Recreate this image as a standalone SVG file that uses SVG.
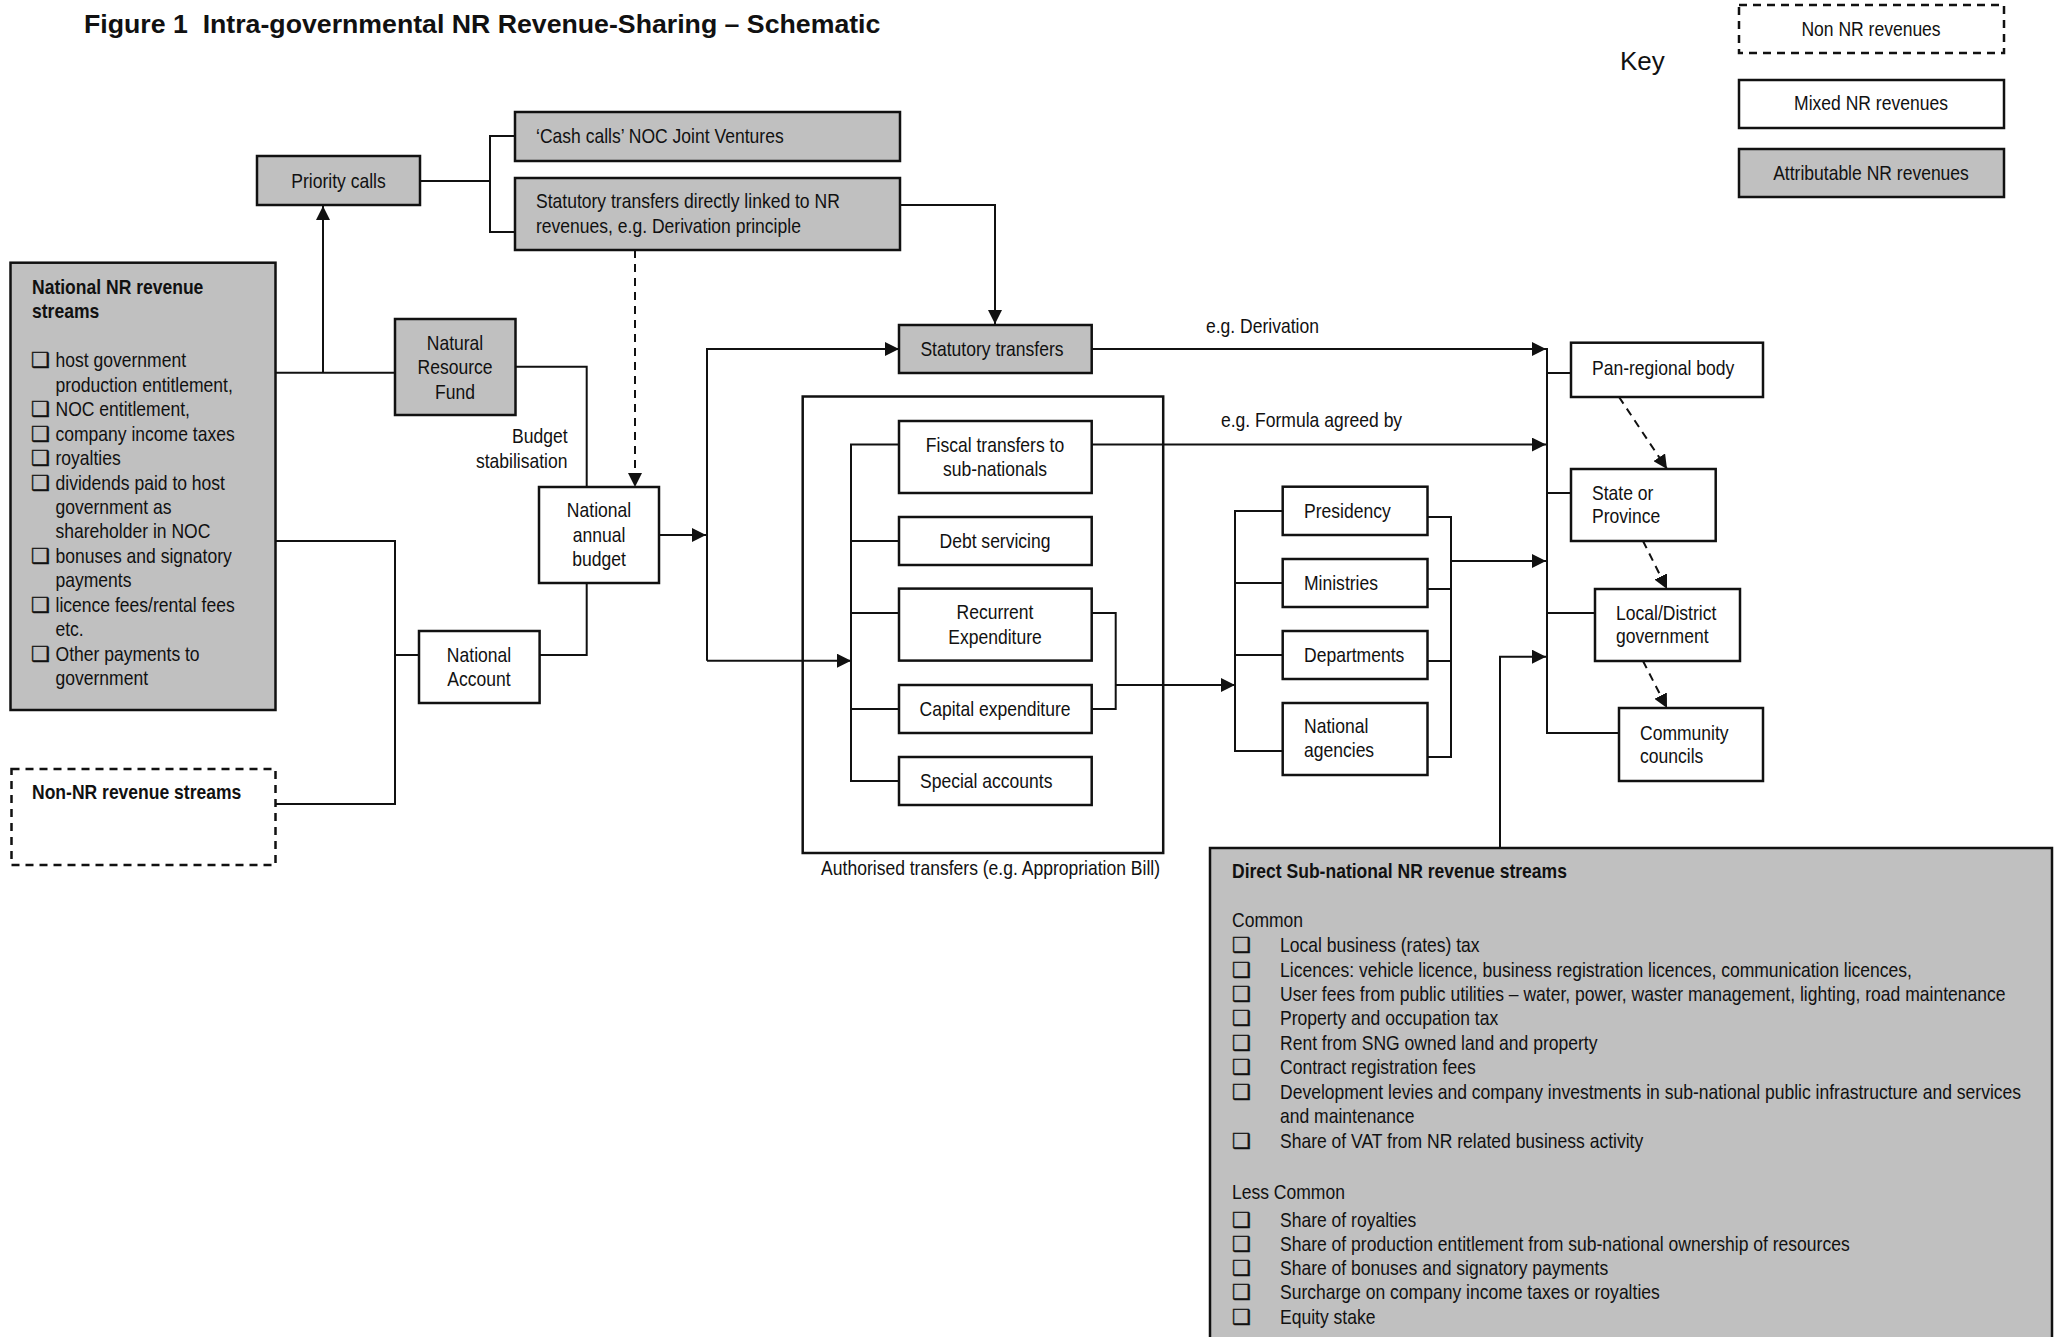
<svg xmlns="http://www.w3.org/2000/svg" width="2058" height="1337" viewBox="0 0 2058 1337">
<defs>
<style>
.t{font-family:"Liberation Sans",Arial,sans-serif;font-size:21px;fill:#111}
.c{text-anchor:middle}
.e{text-anchor:end}
.h{font-weight:bold}
.cb{font-family:"DejaVu Sans",sans-serif;font-size:21px;fill:#111;stroke:#111;stroke-width:0.4}
.grey{fill:#c0c0c0;stroke:#111;stroke-width:2.5}
.white{fill:#fff;stroke:#111;stroke-width:2.5}
.dash{fill:#fff;stroke:#111;stroke-width:2.5;stroke-dasharray:8 6}
.ln{fill:none;stroke:#111;stroke-width:2}
.dl{fill:none;stroke:#111;stroke-width:2;stroke-dasharray:8 6}
</style>
<marker id="ah" viewBox="0 0 14 14" refX="14" refY="7" markerWidth="14" markerHeight="14" markerUnits="userSpaceOnUse" orient="auto">
<path d="M0,0 L14,7 L0,14 z" fill="#111"/>
</marker>
</defs>
<rect width="2058" height="1337" fill="#fff"/>

<text x="84" y="33" xml:space="preserve" style="font-family:'Liberation Sans',Arial,sans-serif;font-size:26.7px;font-weight:bold;fill:#111">Figure 1  Intra-governmental NR Revenue-Sharing – Schematic</text>

<g id="key">
<text x="1620" y="70" style="font-family:'Liberation Sans',Arial,sans-serif;font-size:26px;fill:#111">Key</text>
<rect class="dash" x="1739" y="5" width="265" height="48"/>
<text class="t c" transform="matrix(.835 0 0 1 1871 36)">Non NR revenues</text>
<rect class="white" x="1739" y="80" width="265" height="48"/>
<text class="t c" transform="matrix(.835 0 0 1 1871 110)">Mixed NR revenues</text>
<rect class="grey" x="1739" y="149" width="265" height="48"/>
<text class="t c" transform="matrix(.835 0 0 1 1871 180)">Attributable NR revenues</text>
</g>

<g id="connectors">
<path class="ln" d="M420,181 H490 M515,136 H490 V232 H515"/>
<path class="ln" d="M275.5,372.7 H395"/>
<path class="ln" d="M323,372.7 V206" marker-end="url(#ah)"/>
<path class="ln" d="M515.5,366.7 H586.7 V487"/>
<path class="ln" d="M900,205 H995 V324" marker-end="url(#ah)"/>
<path class="dl" d="M635,250 V487" marker-end="url(#ah)"/>
<path class="ln" d="M275.5,541 H395 V804 H275 M395,655 H419"/>
<path class="ln" d="M586.7,583 V655 H539.6"/>
<path class="ln" d="M659,535 H706" marker-end="url(#ah)"/>
<path class="ln" d="M707,660.7 V349 H899" marker-end="url(#ah)"/>
<path class="ln" d="M707,660.7 H851" marker-end="url(#ah)"/>
<path class="ln" d="M899,444.6 H851 V781 H899 M851,541 H899 M851,613 H899 M851,709 H899"/>
<path class="ln" d="M1091.7,613 H1115.7 V709 H1091.7"/>
<path class="ln" d="M1115.7,685 H1235" marker-end="url(#ah)"/>
<path class="ln" d="M1282.7,511 H1235 V751 H1282.7 M1235,583 H1282.7 M1235,655 H1282.7"/>
<path class="ln" d="M1427.5,517 H1451 V757 H1427.5 M1451,589 H1427.5 M1451,661 H1427.5"/>
<path class="ln" d="M1451,561 H1546" marker-end="url(#ah)"/>
<path class="ln" d="M1091.7,349 H1546" marker-end="url(#ah)"/>
<path class="ln" d="M1091.7,444.6 H1546" marker-end="url(#ah)"/>
<path class="ln" d="M1500,848 V656.7 H1546" marker-end="url(#ah)"/>
<path class="ln" d="M1547,348 V733 H1619 M1547,373 H1571 M1547,493 H1571 M1547,613 H1595"/>
<path class="dl" d="M1619,397 L1667,469" marker-end="url(#ah)"/>
<path class="dl" d="M1643,541 L1667,589" marker-end="url(#ah)"/>
<path class="dl" d="M1643,661 L1667,708" marker-end="url(#ah)"/>
</g>

<text class="t" transform="matrix(.835 0 0 1 1206 333)">e.g. Derivation</text>
<text class="t" transform="matrix(.835 0 0 1 1221 427)">e.g. Formula agreed by</text>
<text class="t e" transform="matrix(.835 0 0 1 567.5 443)">Budget</text>
<text class="t e" transform="matrix(.835 0 0 1 567.5 468)">stabilisation</text>

<g id="priority-calls">
<rect class="grey" x="257" y="156" width="163" height="49"/>
<text class="t c" transform="matrix(.835 0 0 1 338.5 188)">Priority calls</text>
</g>

<g id="cash-calls">
<rect class="grey" x="515" y="112" width="385" height="49"/>
<text class="t" transform="matrix(.835 0 0 1 536 143)">‘Cash calls’ NOC Joint Ventures</text>
</g>

<g id="statutory-direct">
<rect class="grey" x="515" y="178" width="385" height="72"/>
<text class="t" transform="matrix(.835 0 0 1 536 208)">Statutory transfers directly linked to NR</text>
<text class="t" transform="matrix(.835 0 0 1 536 233)">revenues, e.g. Derivation principle</text>
</g>

<g id="national-nr">
<rect class="grey" x="10.5" y="262.7" width="265" height="447.3"/>
<text class="t h" transform="matrix(.835 0 0 1 32 294)">National NR revenue</text>
<text class="t h" transform="matrix(.835 0 0 1 32 318)">streams</text>
<text class="cb" x="31" y="367">❑</text><text class="t" transform="matrix(.835 0 0 1 55.5 367)">host government</text>
<text class="t" transform="matrix(.835 0 0 1 55.5 391.5)">production entitlement,</text>
<text class="cb" x="31" y="416">❑</text><text class="t" transform="matrix(.835 0 0 1 55.5 416)">NOC entitlement,</text>
<text class="cb" x="31" y="440.5">❑</text><text class="t" transform="matrix(.835 0 0 1 55.5 440.5)">company income taxes</text>
<text class="cb" x="31" y="465">❑</text><text class="t" transform="matrix(.835 0 0 1 55.5 465)">royalties</text>
<text class="cb" x="31" y="489.5">❑</text><text class="t" transform="matrix(.835 0 0 1 55.5 489.5)">dividends paid to host</text>
<text class="t" transform="matrix(.835 0 0 1 55.5 514)">government as</text>
<text class="t" transform="matrix(.835 0 0 1 55.5 538)">shareholder in NOC</text>
<text class="cb" x="31" y="562.5">❑</text><text class="t" transform="matrix(.835 0 0 1 55.5 562.5)">bonuses and signatory</text>
<text class="t" transform="matrix(.835 0 0 1 55.5 587)">payments</text>
<text class="cb" x="31" y="611.5">❑</text><text class="t" transform="matrix(.835 0 0 1 55.5 611.5)">licence fees/rental fees</text>
<text class="t" transform="matrix(.835 0 0 1 55.5 636)">etc.</text>
<text class="cb" x="31" y="660.5">❑</text><text class="t" transform="matrix(.835 0 0 1 55.5 660.5)">Other payments to</text>
<text class="t" transform="matrix(.835 0 0 1 55.5 685)">government</text>
</g>

<g id="non-nr">
<rect class="dash" x="11.5" y="769" width="264" height="96"/>
<text class="t h" transform="matrix(.835 0 0 1 32 799)">Non-NR revenue streams</text>
</g>

<g id="natural-resource-fund">
<rect class="grey" x="395" y="319" width="120.5" height="96"/>
<text class="t c" transform="matrix(.835 0 0 1 455 350)">Natural</text>
<text class="t c" transform="matrix(.835 0 0 1 455 374)">Resource</text>
<text class="t c" transform="matrix(.835 0 0 1 455 399)">Fund</text>
</g>

<g id="national-annual-budget">
<rect class="white" x="539" y="487" width="120" height="96"/>
<text class="t c" transform="matrix(.835 0 0 1 599 517)">National</text>
<text class="t c" transform="matrix(.835 0 0 1 599 542)">annual</text>
<text class="t c" transform="matrix(.835 0 0 1 599 566)">budget</text>
</g>

<g id="national-account">
<rect class="white" x="419" y="631" width="120.6" height="72"/>
<text class="t c" transform="matrix(.835 0 0 1 479 662)">National</text>
<text class="t c" transform="matrix(.835 0 0 1 479 686)">Account</text>
</g>

<g id="statutory-transfers">
<rect class="grey" x="899" y="325" width="192.7" height="48"/>
<text class="t c" transform="matrix(.835 0 0 1 992 356)">Statutory transfers</text>
</g>

<g id="authorised-transfers">
<rect x="802.7" y="396.5" width="360.5" height="456.5" fill="none" stroke="#111" stroke-width="2.5"/>
<text class="t e" transform="matrix(.835 0 0 1 1160 875)">Authorised transfers (e.g. Appropriation Bill)</text>
</g>

<g id="fiscal-transfers">
<rect class="white" x="899" y="421" width="192.7" height="72"/>
<text class="t c" transform="matrix(.835 0 0 1 995 452)">Fiscal transfers to</text>
<text class="t c" transform="matrix(.835 0 0 1 995 476)">sub-nationals</text>
</g>
<g id="debt-servicing">
<rect class="white" x="899" y="517" width="192.7" height="48"/>
<text class="t c" transform="matrix(.835 0 0 1 995 548)">Debt servicing</text>
</g>
<g id="recurrent-expenditure">
<rect class="white" x="899" y="588.6" width="192.7" height="72"/>
<text class="t c" transform="matrix(.835 0 0 1 995 619)">Recurrent</text>
<text class="t c" transform="matrix(.835 0 0 1 995 644)">Expenditure</text>
</g>
<g id="capital-expenditure">
<rect class="white" x="899" y="685" width="192.7" height="48"/>
<text class="t c" transform="matrix(.835 0 0 1 995 716)">Capital expenditure</text>
</g>
<g id="special-accounts">
<rect class="white" x="899" y="757" width="192.7" height="48"/>
<text class="t" transform="matrix(.835 0 0 1 920 787.5)">Special accounts</text>
</g>

<g id="presidency">
<rect class="white" x="1282.7" y="486.7" width="144.8" height="48.3"/>
<text class="t" transform="matrix(.835 0 0 1 1304 518)">Presidency</text>
</g>
<g id="ministries">
<rect class="white" x="1282.7" y="559" width="144.8" height="48"/>
<text class="t" transform="matrix(.835 0 0 1 1304 590)">Ministries</text>
</g>
<g id="departments">
<rect class="white" x="1282.7" y="631" width="144.8" height="48"/>
<text class="t" transform="matrix(.835 0 0 1 1304 662)">Departments</text>
</g>
<g id="national-agencies">
<rect class="white" x="1282.7" y="703" width="144.8" height="72"/>
<text class="t" transform="matrix(.835 0 0 1 1304 733)">National</text>
<text class="t" transform="matrix(.835 0 0 1 1304 757)">agencies</text>
</g>

<g id="pan-regional">
<rect class="white" x="1571" y="342.7" width="192" height="54.3"/>
<text class="t" transform="matrix(.835 0 0 1 1592 375)">Pan-regional body</text>
</g>
<g id="state-province">
<rect class="white" x="1571" y="469" width="144.7" height="72"/>
<text class="t" transform="matrix(.835 0 0 1 1592 500)">State or</text>
<text class="t" transform="matrix(.835 0 0 1 1592 523)">Province</text>
</g>
<g id="local-district">
<rect class="white" x="1595" y="589" width="145" height="72"/>
<text class="t" transform="matrix(.835 0 0 1 1616 620)">Local/District</text>
<text class="t" transform="matrix(.835 0 0 1 1616 643)">government</text>
</g>
<g id="community-councils">
<rect class="white" x="1619" y="708" width="144" height="73"/>
<text class="t" transform="matrix(.835 0 0 1 1640 740)">Community</text>
<text class="t" transform="matrix(.835 0 0 1 1640 763)">councils</text>
</g>

<g id="direct-subnational">
<rect class="grey" x="1210" y="848" width="842" height="500"/>
<text class="t h" transform="matrix(.835 0 0 1 1232 878)">Direct Sub-national NR revenue streams</text>
<text class="t" transform="matrix(.835 0 0 1 1232 927)">Common</text>
<text class="cb" x="1232" y="952">❑</text><text class="t" transform="matrix(.835 0 0 1 1280 952)">Local business (rates) tax</text>
<text class="cb" x="1232" y="976.5">❑</text><text class="t" transform="matrix(.835 0 0 1 1280 976.5)">Licences: vehicle licence, business registration licences, communication licences,</text>
<text class="cb" x="1232" y="1001">❑</text><text class="t" transform="matrix(.835 0 0 1 1280 1001)">User fees from public utilities – water, power, waster management, lighting, road maintenance</text>
<text class="cb" x="1232" y="1025">❑</text><text class="t" transform="matrix(.835 0 0 1 1280 1025)">Property and occupation tax</text>
<text class="cb" x="1232" y="1050">❑</text><text class="t" transform="matrix(.835 0 0 1 1280 1050)">Rent from SNG owned land and property</text>
<text class="cb" x="1232" y="1074">❑</text><text class="t" transform="matrix(.835 0 0 1 1280 1074)">Contract registration fees</text>
<text class="cb" x="1232" y="1099">❑</text><text class="t" transform="matrix(.835 0 0 1 1280 1099)">Development levies and company investments in sub-national public infrastructure and services</text>
<text class="t" transform="matrix(.835 0 0 1 1280 1123)">and maintenance</text>
<text class="cb" x="1232" y="1148">❑</text><text class="t" transform="matrix(.835 0 0 1 1280 1148)">Share of VAT from NR related business activity</text>
<text class="t" transform="matrix(.835 0 0 1 1232 1199)">Less Common</text>
<text class="cb" x="1232" y="1227">❑</text><text class="t" transform="matrix(.835 0 0 1 1280 1227)">Share of royalties</text>
<text class="cb" x="1232" y="1251">❑</text><text class="t" transform="matrix(.835 0 0 1 1280 1251)">Share of production entitlement from sub-national ownership of resources</text>
<text class="cb" x="1232" y="1275">❑</text><text class="t" transform="matrix(.835 0 0 1 1280 1275)">Share of bonuses and signatory payments</text>
<text class="cb" x="1232" y="1299">❑</text><text class="t" transform="matrix(.835 0 0 1 1280 1299)">Surcharge on company income taxes or royalties</text>
<text class="cb" x="1232" y="1324">❑</text><text class="t" transform="matrix(.835 0 0 1 1280 1324)">Equity stake</text>
</g>
</svg>
